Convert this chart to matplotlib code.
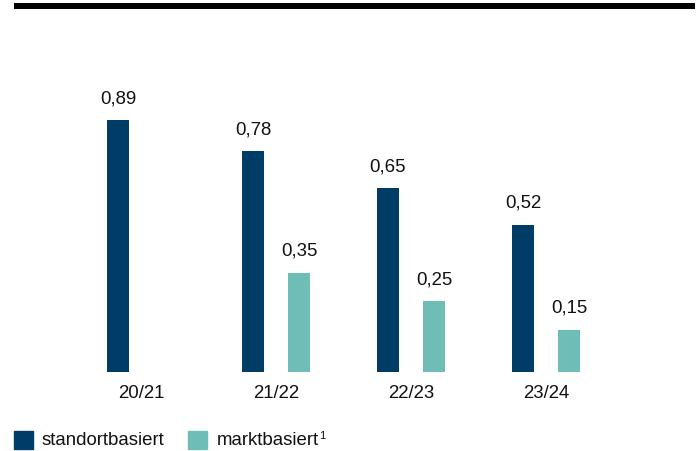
import matplotlib
matplotlib.use("Agg")
import matplotlib.pyplot as plt
from matplotlib.patches import Rectangle
from matplotlib.lines import Line2D

# Data
categories = ["20/21", "21/22", "22/23", "23/24"]
standortbasiert = [0.89, 0.78, 0.65, 0.52]
marktbasiert = [None, 0.35, 0.25, 0.15]
series_names = ["standortbasiert", "marktbasiert"]

DARK = "#003d66"
TEAL = "#6ebdb6"
TXT = "#111111"
FS = 13.4
plt.rcParams["font.family"] = ["Liberation Sans", "DejaVu Sans"]

W, H = 697, 452
fig = plt.figure(figsize=(W / 100, H / 100), dpi=100)

# Layout in pixels
group_px = 135.0
first_center_px = 141.0
baseline_px = 373.0
px_per_unit = 283.0

ax = fig.add_axes([0, (H - baseline_px) / H, 1, baseline_px / H])
ax.set_xlim(-first_center_px / group_px, (W - first_center_px) / group_px)
ax.set_ylim(0, baseline_px / px_per_unit)
ax.axis("off")

bw = 22 / group_px
off = 23 / group_px
xs = list(range(len(categories)))

def fmt(v):
    return f"{v:.2f}".replace(".", ",")

for i, v in enumerate(standortbasiert):
    ax.bar(xs[i] - off, v, width=bw, color=DARK)
    ax.annotate(fmt(v), (xs[i] - off, v), xytext=(0, 18), textcoords="offset pixels",
                ha="center", va="baseline", fontsize=FS, color=TXT)
for i, v in enumerate(marktbasiert):
    if v is None:
        continue
    ax.bar(xs[i] + off, v, width=bw, color=TEAL)
    ax.annotate(fmt(v), (xs[i] + off, v), xytext=(0, 18), textcoords="offset pixels",
                ha="center", va="baseline", fontsize=FS, color=TXT)

for i, c in enumerate(categories):
    ax.annotate(c, (xs[i], 0), xytext=(0, -21), textcoords="offset pixels",
                ha="center", va="center", fontsize=FS, color=TXT,
                annotation_clip=False)

# Top rule
fig.add_artist(Line2D([14 / W, 695 / W], [1 - 7 / H, 1 - 7 / H], color="black",
                      linewidth=6 * 72 / 100, solid_capstyle="butt"))

# Legend
def fy(p):
    return 1 - p / H

fig.add_artist(Rectangle((14 / W, fy(450)), 19 / W, 18 / H, color=DARK, transform=fig.transFigure))
fig.text(42 / W, fy(441), series_names[0], ha="left", va="center", fontsize=FS, color=TXT)
fig.add_artist(Rectangle((188 / W, fy(450)), 19 / W, 18 / H, color=TEAL, transform=fig.transFigure))
t = fig.text(217 / W, fy(441), series_names[1], ha="left", va="center", fontsize=FS, color=TXT)
fig.canvas.draw()
bb = t.get_window_extent()
fig.text(bb.x1 / W, fy(436), "1", ha="left", va="center", fontsize=8, color=TXT)

fig.savefig("out.png", dpi=100)
